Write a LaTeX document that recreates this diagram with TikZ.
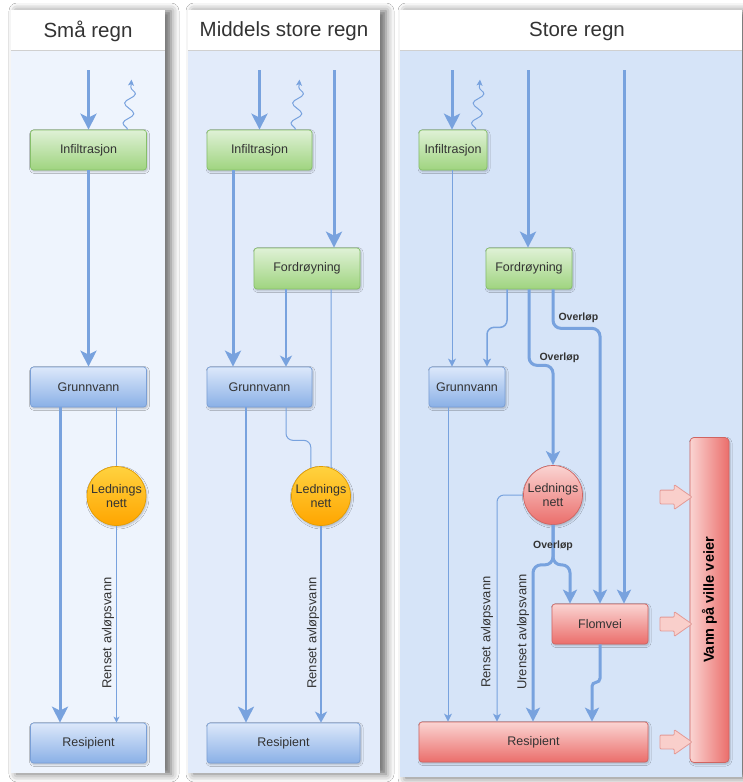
\documentclass[tikz,border=0pt]{standalone}
\usepackage{fontspec}
\setmainfont{Liberation Sans}
\usetikzlibrary{arrows.meta,shapes.arrows,decorations.pathmorphing,shadows.blur,calc}
\definecolor{lnc}{HTML}{78A2DE}
\definecolor{txt}{HTML}{333333}
\definecolor{pa}{HTML}{EEF4FD}
\definecolor{pb}{HTML}{E2EBFA}
\definecolor{pc}{HTML}{D6E4F8}
\definecolor{gtop}{HTML}{DFF1D6}
\definecolor{gbot}{HTML}{9FD47F}
\definecolor{gbd}{HTML}{86BF6A}
\definecolor{btop}{HTML}{DCE8FA}
\definecolor{bbot}{HTML}{8AB0E6}
\definecolor{bbd}{HTML}{7A9FD6}
\definecolor{rtop}{HTML}{FAD4D2}
\definecolor{rbot}{HTML}{EB6E6B}
\definecolor{rbd}{HTML}{D06461}
\definecolor{otop}{HTML}{FFD23F}
\definecolor{obot}{HTML}{FFA500}
\definecolor{obd}{HTML}{E39D00}
\definecolor{bafill}{HTML}{F9CFCB}
\definecolor{badraw}{HTML}{E39A96}
\definecolor{hdl}{HTML}{D0D0D0}
\tikzset{
  bigtip/.tip={Stealth[length=16pt,width=16pt,inset=4pt]},
  midtip/.tip={Stealth[length=14pt,width=14pt,inset=3.5pt]},
  medtip/.tip={Stealth[length=11pt,width=12pt,inset=3pt]},
  smalltip/.tip={Stealth[length=8pt,width=8pt,inset=2pt]},
  tinytip/.tip={Stealth[length=6pt,width=6pt,inset=1.5pt]},
}
\begin{document}
\begin{tikzpicture}[x=1pt,y=-1pt,
  every node/.style={text=txt},
  lbl/.style={font=\fontsize{12.5}{14}\selectfont},
  box/.style={rectangle, rounded corners=3pt, line width=0.7pt, minimum height=40pt, inner sep=1pt, lbl,
    blur shadow={shadow xshift=1pt,shadow yshift=-1.5pt,shadow blur radius=2pt,shadow opacity=25}},
  gbox/.style={box, draw=gbd, top color=gtop, bottom color=gbot},
  bbox/.style={box, draw=bbd, top color=btop, bottom color=bbot},
  rbox/.style={box, draw=rbd, top color=rtop, bottom color=rbot},
  circ/.style={circle, minimum size=59pt, inner sep=0pt, line width=0.7pt, lbl, align=center,
    blur shadow={shadow xshift=1pt,shadow yshift=-1.5pt,shadow blur radius=2pt,shadow opacity=25}},
  ocirc/.style={circ, draw=obd, top color=otop, bottom color=obot},
  rcirc/.style={circ, draw=rbd, top color=rtop, bottom color=rbot},
  thickflow/.style={draw=lnc, line width=3pt},
  medflow/.style={draw=lnc, line width=2pt},
  thinflow/.style={draw=lnc, line width=1pt},
  wavy/.style={draw=lnc, line width=1pt, decorate,
    decoration={snake, amplitude=5pt, segment length=20pt, post length=5pt}, -tinytip},
  title/.style={font=\fontsize{20.5}{24}\selectfont},
  rlbl/.style={font=\fontsize{13}{15}\selectfont, rotate=90},
  ovl/.style={font=\fontsize{10.5}{12}\selectfont\bfseries},
  blockarr/.style={single arrow, draw=badraw, fill=bafill, line width=0.8pt, minimum height=32pt,
    minimum width=0pt, inner xsep=0pt, inner ysep=6.5pt, single arrow head extend=5.5pt,
    single arrow tip angle=70, rounded corners=1pt},
  panelshadow/.style={blur shadow={shadow xshift=6pt,shadow yshift=-1pt,shadow blur radius=8pt,shadow opacity=60}}
]
\useasboundingbox (0,0) rectangle (742,782);
\fill[white] (0,0) rectangle (742,782);

% ---------- panels ----------
\fill[pa, panelshadow] (11,10) rectangle (165,773);
\fill[pb, panelshadow] (188,10) rectangle (380,773);
\fill[pc, panelshadow] (400,10) rectangle (742,777);
\fill[white] (11,10) rectangle (165,50);
\fill[white] (188,10) rectangle (380,50);
\fill[white] (400,10) rectangle (742,50);
\draw[hdl, line width=0.5pt] (11,50) -- (165,50);
\draw[hdl, line width=0.5pt] (188,50) -- (380,50);
\draw[hdl, line width=0.5pt] (400,50) -- (742,50);
\node[title] (t1) at (88,31) {Små regn};
\node[title] (t2) at (284,31) {Middels store regn};
\node[title] (t3) at (577,31) {Store regn};

% ---------- panel 1 ----------
\node[gbox, minimum width=116pt] (inf1) at (88.5,150) {Infiltrasjon};
\node[bbox, minimum width=116pt] (gv1) at (88.5,387) {Grunnvann};
\node[ocirc] (led1) at (116.5,496) {Lednings\\nett};
\node[bbox, minimum width=116pt] (res1) at (88.5,743) {Resipient};
\coordinate (p1a) at (88.5,70);

\draw[thickflow, -bigtip] (p1a) -- (inf1.north);
\draw[wavy] ([xshift=39]inf1.north) -- ++(4,-50);
\draw[thickflow, -bigtip] (inf1.south) -- (gv1.north);
\draw[thickflow, -bigtip] ([xshift=-28.5]gv1.south) -- ([xshift=-28.5]res1.north);
\draw[thinflow] (led1.north |- gv1.south) -- (led1.north);
\draw[thinflow, -tinytip] (led1.south) -- (led1.south |- res1.north);
\node[rlbl] (rl1) at (108,633) {Renset avløpsvann};

% ---------- panel 2 ----------
\node[gbox, minimum width=105pt] (inf2) at (259.5,150) {Infiltrasjon};
\node[gbox, minimum width=106pt, minimum height=41pt] (ford2) at (307,268.5) {Fordrøyning};
\node[bbox, minimum width=105pt] (gv2) at (259.5,387) {Grunnvann};
\node[ocirc] (led2) at (321,496) {Lednings\\nett};
\node[bbox, minimum width=153pt] (res2) at (283.5,743) {Resipient};
\coordinate (p2a) at (259.5,70);
\coordinate (p2b) at (334,70);

\draw[thickflow, -bigtip] (p2a) -- (inf2.north);
\draw[wavy] ([xshift=36]inf2.north) -- ++(4,-50);
\draw[thickflow, -bigtip] (p2b) -- (p2b |- ford2.north);
\draw[thickflow, -bigtip] ([xshift=-26.5]inf2.south) -- ([xshift=-26.5]gv2.north);
\draw[medflow, -medtip] ([xshift=-21]ford2.south) -- ([xshift=26.5]gv2.north);
\draw[thinflow] ([xshift=24]ford2.south) -- (led2.70);
\draw[thinflow, rounded corners=7pt] ([xshift=26.5]gv2.south) -- ++(0,33) -| (led2.110);
\draw[medflow, -bigtip] ([xshift=-13.5]gv2.south) -- ([xshift=-37.5]res2.north);
\draw[medflow, -medtip] (led2.south) -- (led2.south |- res2.north);
\node[rlbl] (rl2) at (313,633) {Renset avløpsvann};

% ---------- panel 3 ----------
\node[gbox, minimum width=68pt] (inf3) at (453,150) {Infiltrasjon};
\node[gbox, minimum width=86pt, minimum height=41pt] (ford3) at (529,268.5) {Fordrøyning};
\node[bbox, minimum width=76pt] (gv3) at (467,387) {Grunnvann};
\node[rcirc] (led3) at (553,495) {Lednings\\nett};
\node[rbox, minimum width=96pt] (flom) at (600,624) {Flomvei};
\node[rbox, minimum width=229pt] (res3) at (533.5,742) {Resipient};
\node[rectangle, rounded corners=4pt, draw=rbd, line width=0.7pt, left color=rtop, right color=rbot,
  minimum width=39pt, minimum height=325pt, inner sep=0pt,
  blur shadow={shadow xshift=1pt,shadow yshift=-1.5pt,shadow blur radius=2pt,shadow opacity=25}] (vann) at (709.5,600) {};
\node[rotate=90, font=\fontsize{14.5}{16}\selectfont\bfseries, text=black] (vannlbl) at (vann.center) {Vann på ville veier};
\node[blockarr] (ba1) at (671,497) {};
\node[blockarr] (ba2) at (671,624) {};
\node[blockarr] (ba3) at (671,742) {};
\coordinate (p3a) at (452,70);
\coordinate (p3b) at (528,70);
\coordinate (p3c) at (624,70);

\draw[thickflow, -bigtip] (p3a) -- (p3a |- inf3.north);
\draw[wavy] ([xshift=23]inf3.north) -- ++(4,-50);
\draw[thickflow, -bigtip] (p3b) -- (p3b |- ford3.north);
\draw[thickflow, -midtip] (p3c) -- (p3c |- flom.north);
\draw[thinflow, -smalltip] ([xshift=-1]inf3.south) -- ([xshift=-15]gv3.north);
\draw[line width=1.5pt, draw=lnc, rounded corners=7pt, -smalltip] ([xshift=-22]ford3.south) -- ++(0,38) -| ([xshift=20]gv3.north);
\draw[thickflow, rounded corners=8pt, -midtip] ([xshift=0]ford3.south) -- ++(0,76) -| (led3.north);
\draw[thickflow, rounded corners=8pt, -midtip] ([xshift=24]ford3.south) -- ++(0,39) -| (flom.north);
\draw[thinflow, -smalltip] ([xshift=-19]gv3.south) -- ([xshift=-85.5]res3.north);
\draw[thinflow, rounded corners=7pt, -smalltip] (led3.west) -| ([xshift=-36.5]res3.north);
\draw[thickflow, rounded corners=8pt, -midtip] (led3.south) -- ++(0,40) -| ([xshift=-0.5]res3.north);
\draw[thickflow, rounded corners=8pt, -midtip] (led3.south) -- ++(0,40) -| ([xshift=-30]flom.north);
\draw[thickflow, rounded corners=4pt, -midtip] (flom.south) -- ++(0,38) -| ([xshift=58.5]res3.north);
\node[ovl, anchor=west] (ov1) at (555,318) {Overløp};
\node[ovl, anchor=west] (ov2) at (536,358) {Overløp};
\node[ovl] (ov3) at (553,546) {Overløp};
\node[rlbl] (rl3) at (487,632) {Renset avløpsvann};
\node[rlbl] (ul3) at (523,632) {Urenset avløpsvann};
\end{tikzpicture}
\end{document}
